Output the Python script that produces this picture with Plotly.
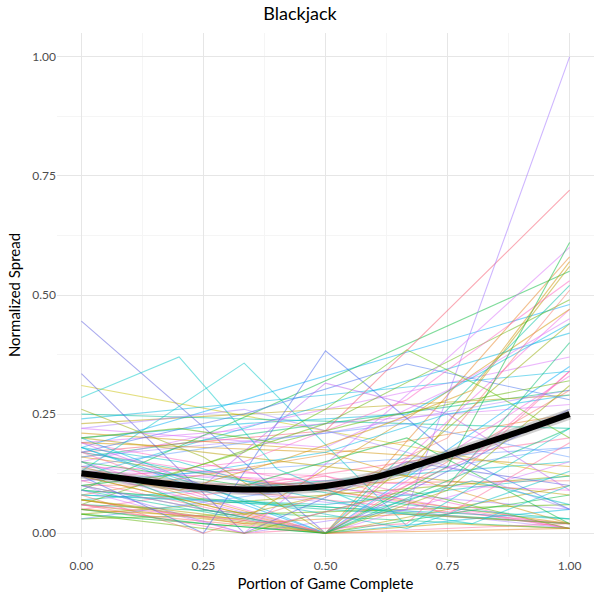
import plotly.graph_objects as go

# ---- data: normalized spread per game, by number of observation points ----
# x positions of each game are its evenly spaced rounds from 0 (start) to 1 (end)
games_2pt = [
    [0.31, 0.12], [0.16, 0.30], [0.19, 0.27], [0.23, 0.29], [0.12, 0.42],
    [0.05, 0.20], [0.09, 0.02], [0.14, 0.05], [0.21, 0.14], [0.07, 0.15],
    [0.17, 0.01], [0.03, 0.06], [0.11, 0.18], [0.08, 0.25], [0.25, 0.22],
    [0.13, 0.09], [0.04, 0.12], [0.18, 0.48], [0.10, 0.11], [0.06, 0.01],
    [0.15, 0.37], [0.20, 0.08], [0.24, 0.34], [0.12, 0.02], [0.09, 0.55],
    [0.12, 0.01], [0.16, 0.02], [0.08, 0.03], [0.19, 0.01],
]
games_3pt = [
    [0.445, 0.00, 0.26], [0.17, 0.215, 0.72], [0.12, 0.00, 0.58], [0.09, 0.00, 0.52],
    [0.15, 0.00, 0.47], [0.07, 0.00, 0.44], [0.18, 0.00, 0.35], [0.05, 0.00, 0.30],
    [0.10, 0.00, 0.22], [0.13, 0.00, 0.15], [0.06, 0.00, 0.10], [0.20, 0.00, 0.05],
    [0.11, 0.00, 0.02], [0.04, 0.00, 0.08], [0.16, 0.21, 0.30], [0.19, 0.17, 0.02],
    [0.08, 0.06, 0.12], [0.14, 0.12, 0.01], [0.06, 0.23, 0.49], [0.03, 0.10, 0.18],
    [0.14, 0.00, 0.01], [0.09, 0.05, 0.02], [0.10, 0.00, 0.33],
]
games_4pt = [
    [0.335, 0.00, 0.15, 0.10], [0.13, 0.357, 0.015, 0.22], [0.10, 0.00, 0.05, 1.00],
    [0.17, 0.25, 0.355, 0.28], [0.09, 0.00, 0.29, 0.60], [0.12, 0.04, 0.12, 0.56],
    [0.20, 0.23, 0.25, 0.44], [0.06, 0.00, 0.02, 0.34], [0.15, 0.10, 0.20, 0.02],
    [0.22, 0.26, 0.17, 0.05], [0.05, 0.03, 0.24, 0.47], [0.18, 0.07, 0.01, 0.13],
    [0.11, 0.15, 0.28, 0.53], [0.04, 0.00, 0.09, 0.01], [0.14, 0.19, 0.23, 0.16],
    [0.07, 0.02, 0.04, 0.02], [0.17, 0.11, 0.06, 0.03],
]
games_5pt = [
    [0.12, 0.00, 0.383, 0.17, 0.05], [0.26, 0.16, 0.00, 0.09, 0.31],
    [0.19, 0.10, 0.315, 0.25, 0.09], [0.08, 0.00, 0.08, 0.20, 0.51],
    [0.15, 0.05, 0.00, 0.10, 0.40], [0.22, 0.20, 0.18, 0.30, 0.45],
    [0.07, 0.04, 0.00, 0.02, 0.01], [0.10, 0.13, 0.17, 0.25, 0.29],
    [0.17, 0.08, 0.12, 0.04, 0.19], [0.05, 0.02, 0.00, 0.14, 0.61],
]
games_6pt = [
    [0.285, 0.37, 0.135, 0.05, 0.02, 0.10], [0.13, 0.09, 0.15, 0.22, 0.30, 0.57],
    [0.18, 0.15, 0.09, 0.05, 0.11, 0.06], [0.06, 0.04, 0.02, 0.07, 0.16, 0.34],
    [0.20, 0.22, 0.19, 0.24, 0.28, 0.32],
]
games_7pt = [
    [0.10, 0.12, 0.17, 0.26, 0.385, 0.30, 0.20],
]

# smoothed average across games
mean_x = [0.0, 0.1, 0.2, 0.3, 0.4, 0.5, 0.6, 0.7, 0.8, 0.9, 1.0]
mean_y = [0.126, 0.113, 0.101, 0.093, 0.092, 0.099, 0.117, 0.147, 0.180, 0.214, 0.250]

x_ticks = [0, 0.25, 0.5, 0.75, 1.0]
x_tick_labels = ["0.00", "0.25", "0.50", "0.75", "1.00"]
y_ticks = [0, 0.25, 0.5, 0.75, 1.0]
y_tick_labels = ["0.00", "0.25", "0.50", "0.75", "1.00"]

palette = ["#F8766D", "#E88526", "#D39200", "#B79F00", "#93AA00", "#5EB300",
           "#00BA38", "#00BF74", "#00C19F", "#00BFC4", "#00B9E3", "#00ADFA",
           "#619CFF", "#AE87FF", "#DB72FB", "#F564E3", "#FF61C3", "#FF699C"]

special = {
    ("2", 0): "#C9C000",   # yellow
    ("3", 0): "#5A5AE0",   # blue
    ("3", 1): "#F8566D",   # red
    ("4", 0): "#5A5AE0",
    ("4", 1): "#00C8C8",
    ("4", 2): "#A070FF",
    ("4", 3): "#4070F0",
    ("5", 0): "#4060F0",
    ("5", 2): "#C060F0",
    ("6", 0): "#00C8C8",
    ("7", 0): "#5EC300",
}

fig = go.Figure()
k = 0
for name, group in [("2", games_2pt), ("3", games_3pt), ("4", games_4pt),
                    ("5", games_5pt), ("6", games_6pt), ("7", games_7pt)]:
    for i, ys in enumerate(group):
        n = len(ys)
        xs = [j / (n - 1) for j in range(n)]
        col = special.get((name, i), palette[(k * 7) % len(palette)])
        k += 1
        fig.add_trace(go.Scatter(x=xs, y=ys, mode="lines",
                                 line=dict(color=col, width=1.1),
                                 opacity=0.5, hoverinfo="skip", showlegend=False))

fig.add_trace(go.Scatter(x=mean_x, y=mean_y, mode="lines",
                         line=dict(color="rgba(120,120,120,0.35)", width=11, shape="spline"),
                         hoverinfo="skip", showlegend=False))
fig.add_trace(go.Scatter(x=mean_x, y=mean_y, mode="lines",
                         line=dict(color="black", width=6, shape="spline"),
                         showlegend=False))

font = "Lato, 'Noto Sans', sans-serif"
axis_common = dict(
    showline=False, zeroline=False, ticks="",
    gridcolor="#e6e6e6", gridwidth=1.2,
    tickfont=dict(size=12, color="#4d4d4d", family=font),
    minor=dict(dtick=0.125, tick0=0.125, showgrid=True, gridcolor="#f5f5f5", gridwidth=0.6),
)
fig.update_layout(
    width=600, height=600,
    margin=dict(l=57, r=6, t=33, b=43),
    plot_bgcolor="white", paper_bgcolor="white",
    title=dict(text="Blackjack", x=0.5, xanchor="center", y=0.977, yanchor="middle",
               font=dict(size=18, color="black", family=font)),
    xaxis=dict(range=[-0.05, 1.05], tickvals=x_ticks, ticktext=x_tick_labels,
               title=dict(text="Portion of Game Complete", standoff=6,
                          font=dict(size=15, color="black", family=font)),
               **axis_common),
    yaxis=dict(range=[-0.05, 1.05], tickvals=y_ticks, ticktext=y_tick_labels,
               title=dict(text="Normalized Spread", standoff=8,
                          font=dict(size=15, color="black", family=font)),
               **axis_common),
)

fig.write_html("out.html")
